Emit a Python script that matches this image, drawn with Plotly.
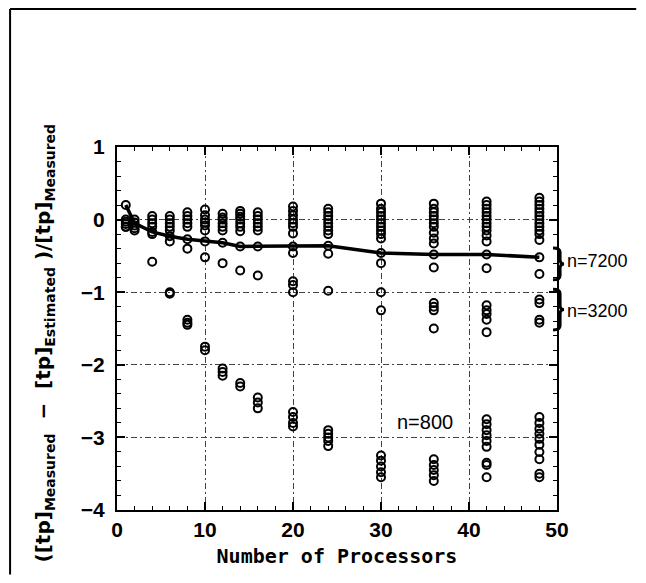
import plotly.graph_objects as go

# processor counts and measured relative error values
procs = [1, 2, 4, 6, 8, 10, 12, 14, 16, 20, 24, 30, 36, 42, 48]

err_p1 = [0.2, 0.0, -0.03, -0.06, -0.1, -0.1]
err_p2 = [0.0, -0.04, -0.08, -0.12, -0.15]
err_p4 = [0.05, 0.0, -0.05, -0.1, -0.17, -0.2, -0.58]
err_p6 = [0.05, 0.0, -0.05, -0.1, -0.15, -0.23, -0.3, -1.0, -1.02]
err_p8 = [0.1, 0.05, 0.0, -0.05, -0.1, -0.27, -0.4, -1.38, -1.42, -1.45]
err_p10 = [0.14, 0.06, 0.0, -0.04, -0.08, -0.15, -0.3, -0.52, -1.75, -1.8]
err_p12 = [0.08, 0.03, 0.0, -0.05, -0.1, -0.15, -0.32, -0.6, -2.05, -2.1, -2.15]
err_p14 = [0.12, 0.08, 0.04, 0.0, -0.05, -0.1, -0.16, -0.37, -0.7, -2.25, -2.3]
err_p16 = [0.1, 0.05, 0.0, -0.05, -0.1, -0.15, -0.37, -0.77, -2.45, -2.52, -2.6]
err_p20 = [0.18, 0.12, 0.06, 0.0, -0.05, -0.1, -0.19, -0.37, -0.46, -0.85, -0.9,
           -1.0, -2.65, -2.72, -2.8, -2.85]
err_p24 = [0.15, 0.1, 0.05, 0.0, -0.05, -0.1, -0.15, -0.2, -0.36, -0.47, -0.98,
           -2.9, -2.95, -3.0, -3.05, -3.12]
err_p30 = [0.22, 0.15, 0.1, 0.05, 0.0, -0.05, -0.1, -0.15, -0.2, -0.26, -0.46,
           -0.6, -1.0, -1.25, -3.25, -3.32, -3.4, -3.48, -3.55]
err_p36 = [0.22, 0.15, 0.1, 0.05, 0.0, -0.05, -0.1, -0.18, -0.26, -0.33, -0.48,
           -0.66, -1.15, -1.2, -1.25, -1.5, -3.3, -3.38, -3.45, -3.52, -3.6]
err_p42 = [0.25, 0.2, 0.15, 0.1, 0.05, 0.0, -0.05, -0.1, -0.15, -0.22, -0.3,
           -0.48, -0.67, -1.18, -1.25, -1.3, -1.38, -1.55, -2.75, -2.82, -2.9,
           -2.97, -3.05, -3.13, -3.35, -3.38, -3.55]
err_p48 = [0.3, 0.25, 0.2, 0.15, 0.1, 0.05, 0.0, -0.05, -0.1, -0.15, -0.2, -0.28,
           -0.52, -0.75, -1.1, -1.15, -1.38, -1.42, -2.72, -2.8, -2.88, -2.95,
           -3.02, -3.1, -3.2, -3.3, -3.5, -3.55]

err_by_proc = [err_p1, err_p2, err_p4, err_p6, err_p8, err_p10, err_p12, err_p14,
               err_p16, err_p20, err_p24, err_p30, err_p36, err_p42, err_p48]

# mean curve (solid line)
mean_err = [0.2, -0.05, -0.17, -0.23, -0.27, -0.3, -0.32, -0.37, -0.37, -0.37,
            -0.36, -0.46, -0.48, -0.48, -0.52]

pts_x = []
pts_y = []
for p, vals in zip(procs, err_by_proc):
    for v in vals:
        pts_x.append(p)
        pts_y.append(v)

fig = go.Figure()
fig.add_trace(go.Scatter(
    x=pts_x, y=pts_y, mode='markers',
    marker=dict(symbol='circle-open', size=8, color='black',
                line=dict(width=2, color='black')),
    showlegend=False))
fig.add_trace(go.Scatter(
    x=procs, y=mean_err, mode='lines',
    line=dict(color='black', width=3.5), showlegend=False))

tick_font = dict(family='Liberation Sans Narrow, Arial Narrow, Liberation Sans',
                 size=21, color='black', weight='bold')
grid_dash = '6px,3px,2px,3px'

fig.update_xaxes(
    range=[0, 50], tick0=0, dtick=10, ticks='inside', ticklen=8, tickwidth=1.5,
    tickcolor='black', showline=True, linewidth=2, linecolor='black',
    mirror='allticks', showgrid=True, gridcolor='#444', gridwidth=1,
    griddash=grid_dash, zeroline=False, tickfont=tick_font,
    minor=dict(dtick=2, ticks='inside', ticklen=4, tickcolor='black',
               tickwidth=1.2, showgrid=False),
    title=dict(text='<b>Number of Processors</b>', standoff=9,
               font=dict(family='DejaVu Sans Mono', size=20, color='black')))
fig.update_yaxes(
    range=[-4, 1], tick0=0, dtick=1, ticks='inside', ticklen=8, tickwidth=1.5,
    tickcolor='black', showline=True, linewidth=2, linecolor='black',
    mirror='allticks', showgrid=True, gridcolor='#444', gridwidth=1,
    griddash=grid_dash, zeroline=False, tickfont=tick_font,
    ticklabelstandoff=6,
    minor=dict(dtick=0.2, ticks='inside', ticklen=4, tickcolor='black',
               tickwidth=1.2, showgrid=False))

# y axis title as an annotation (it sits lower than the plot centre)
ytitle = ('<b>([tp]<sub>Measured</sub>  \u2212  [tp]<sub>Estimated</sub> )'
          '/[tp]<sub>Measured</sub></b>')
annotations = [
    dict(text=ytitle, textangle=-90, xref='paper', yref='paper',
         x=-0.165, y=0.46, xanchor='center', yanchor='middle', showarrow=False,
         font=dict(family='DejaVu Sans', size=20, color='black')),
    dict(text='n=7200', xref='paper', yref='y', x=1.018, y=-0.565,
         xanchor='left', yanchor='middle', showarrow=False,
         font=dict(family='Liberation Sans, Arial', size=18, color='black')),
    dict(text='n=3200', xref='paper', yref='y', x=1.018, y=-1.26,
         xanchor='left', yanchor='middle', showarrow=False,
         font=dict(family='Liberation Sans, Arial', size=18, color='black')),
    dict(text='n=800', xref='x', yref='y', x=35, y=-2.79,
         xanchor='center', yanchor='middle', showarrow=False,
         font=dict(family='Liberation Sans Narrow, Liberation Sans', size=20,
                   color='black')),
]


def brace(ytop, ybot, a=0.991, b=1.007, c=1.016):
    ym = (ytop + ybot) / 2
    h = 0.06
    return (f'M {a},{ytop} Q {b},{ytop} {b},{ytop - h} '
            f'L {b},{ym + h} Q {b},{ym} {c},{ym} '
            f'Q {b},{ym} {b},{ym - h} '
            f'L {b},{ybot + h} Q {b},{ybot} {a},{ybot}')


shapes = [
    dict(type='path', xref='paper', yref='y', path=brace(-0.39, -0.83),
         line=dict(color='black', width=3)),
    dict(type='path', xref='paper', yref='y', path=brace(-0.96, -1.52),
         line=dict(color='black', width=3)),
    # page frame (left and top edges)
    dict(type='line', xref='paper', yref='paper', x0=-0.243, x1=-0.243,
         y0=1.38, y1=-0.178, line=dict(color='black', width=2)),
    dict(type='line', xref='paper', yref='paper', x0=-0.243, x1=1.18,
         y0=1.38, y1=1.38, line=dict(color='black', width=2)),
]

# the page body adds an 8px margin, so the figure is kept inside the window
fig.update_layout(
    width=630, height=567,
    margin=dict(l=109, r=81, t=139, b=65),
    paper_bgcolor='white', plot_bgcolor='white',
    annotations=annotations, shapes=shapes,
    showlegend=False)

fig.write_html('out.html', config={'displayModeBar': False})
